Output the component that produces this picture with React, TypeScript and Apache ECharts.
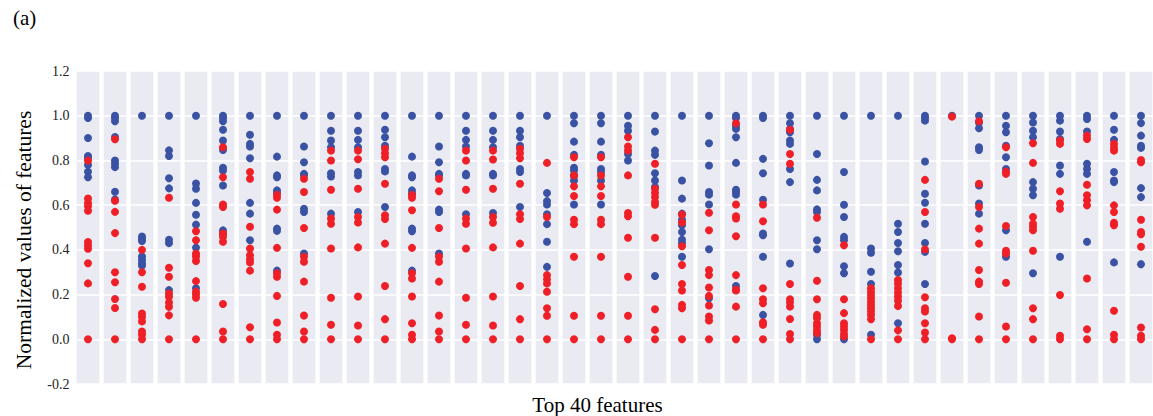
import React, { useEffect, useRef } from "react";
import * as echarts from "echarts";

const features: string[] = Array.from({ length: 40 }, (_, i) => `Feature ${i + 1}`);

const yTicks = { min: -0.2, max: 1.2, step: 0.2 };

const blueValues: number[][] = [
  [1.0, 0.99, 0.9, 0.82, 0.81, 0.78, 0.75, 0.725],
  [1.0, 0.99, 0.975, 0.905, 0.8, 0.785, 0.77, 0.66, 0.625],
  [1.0, 0.46, 0.45, 0.44, 0.37, 0.355, 0.34, 0.33],
  [1.0, 0.845, 0.82, 0.72, 0.675, 0.445, 0.43, 0.22],
  [1.0, 0.697, 0.673, 0.61, 0.557, 0.513, 0.41, 0.228],
  [1.0, 0.99, 0.975, 0.937, 0.889, 0.847, 0.767, 0.755, 0.688, 0.487, 0.473],
  [1.0, 0.915, 0.874, 0.862, 0.81, 0.61, 0.562, 0.443],
  [1.0, 0.817, 0.733, 0.725, 0.666, 0.655, 0.495, 0.485, 0.307],
  [1.0, 0.862, 0.792, 0.74, 0.733, 0.584, 0.569, 0.384],
  [1.0, 0.933, 0.889, 0.859, 0.743, 0.728, 0.562],
  [1.0, 0.933, 0.892, 0.859, 0.748, 0.733, 0.569],
  [1.0, 0.937, 0.904, 0.866, 0.762, 0.751, 0.592],
  [1.0, 0.817, 0.733, 0.725, 0.666, 0.651, 0.495, 0.483, 0.307],
  [1.0, 0.862, 0.792, 0.74, 0.733, 0.58, 0.569, 0.384],
  [1.0, 0.933, 0.892, 0.862, 0.74, 0.733, 0.559],
  [1.0, 0.933, 0.892, 0.859, 0.74, 0.733, 0.565],
  [1.0, 0.933, 0.904, 0.866, 0.762, 0.748, 0.592],
  [1.0, 0.654, 0.618, 0.603, 0.559, 0.515, 0.436, 0.324],
  [1.0, 0.966, 0.884, 0.825, 0.767, 0.755, 0.733, 0.71, 0.603],
  [1.0, 0.966, 0.884, 0.825, 0.762, 0.748, 0.71, 0.603],
  [1.0, 0.955, 0.933, 0.829, 0.8],
  [1.0, 0.929, 0.844, 0.825, 0.743, 0.71, 0.681, 0.283],
  [1.0, 0.71, 0.629, 0.562, 0.535, 0.51, 0.48, 0.445, 0.43, 0.369],
  [1.0, 0.877, 0.777, 0.659, 0.647, 0.603, 0.403, 0.183],
  [1.0, 0.99, 0.955, 0.941, 0.904, 0.789, 0.669, 0.659, 0.647, 0.238],
  [1.0, 0.99, 0.807, 0.743, 0.624, 0.473, 0.465, 0.369, 0.109],
  [1.0, 0.966, 0.941, 0.926, 0.889, 0.874, 0.762, 0.703, 0.339],
  [1.0, 0.829, 0.713, 0.666, 0.581, 0.569, 0.443, 0.403, 0.02, 0],
  [1.0, 0.748, 0.602, 0.547, 0.458, 0.443, 0.327, 0.295, 0],
  [1.0, 0.406, 0.387, 0.302, 0.247, 0.02],
  [1.0, 0.517, 0.48, 0.431, 0.394, 0.332, 0.299, 0.072],
  [1.0, 0.99, 0.978, 0.795, 0.651, 0.611, 0.517, 0.431, 0.391, 0.247],
  [1.0],
  [1.0, 0.97, 0.944, 0.859, 0.847, 0.688, 0.607, 0.562],
  [1.0, 0.955, 0.926, 0.866, 0.814, 0.762, 0.488, 0.369],
  [1.0, 0.97, 0.933, 0.904, 0.703, 0.673, 0.644, 0.295],
  [1.0, 0.978, 0.929, 0.896, 0.777, 0.74, 0.369],
  [1.0, 0.985, 0.929, 0.785, 0.762, 0.74, 0.436],
  [1.0, 0.937, 0.892, 0.748, 0.71, 0.703, 0.344],
  [1.0, 0.967, 0.911, 0.866, 0.856, 0.676, 0.636, 0.336],
];

const redValues: number[][] = [
  [0.8, 0.63, 0.61, 0.595, 0.575, 0.435, 0.42, 0.405, 0.34, 0.25, 0],
  [0.895, 0.62, 0.57, 0.475, 0.3, 0.255, 0.18, 0.14, 0],
  [0.4, 0.3, 0.235, 0.115, 0.1, 0.08, 0.035, 0.02, 0],
  [0.633, 0.32, 0.28, 0.205, 0.19, 0.165, 0.145, 0.107, 0],
  [0.483, 0.443, 0.384, 0.37, 0.35, 0.26, 0.213, 0.2, 0.186, 0],
  [0.859, 0.725, 0.603, 0.592, 0.473, 0.458, 0.436, 0.158, 0.035, 0],
  [0.748, 0.718, 0.503, 0.406, 0.376, 0.358, 0.344, 0.307, 0.054, 0],
  [0.646, 0.633, 0.58, 0.409, 0.295, 0.28, 0.194, 0.075, 0.02, 0],
  [0.718, 0.659, 0.498, 0.369, 0.347, 0.258, 0.106, 0.035, 0],
  [0.844, 0.8, 0.669, 0.54, 0.517, 0.406, 0.186, 0.065, 0],
  [0.844, 0.805, 0.673, 0.547, 0.522, 0.411, 0.191, 0.062, 0],
  [0.852, 0.832, 0.814, 0.696, 0.555, 0.538, 0.428, 0.238, 0.09, 0],
  [0.645, 0.633, 0.577, 0.409, 0.295, 0.272, 0.191, 0.072, 0.02, 0],
  [0.718, 0.662, 0.498, 0.369, 0.347, 0.258, 0.106, 0.035, 0],
  [0.844, 0.8, 0.669, 0.54, 0.517, 0.406, 0.186, 0.065, 0],
  [0.844, 0.804, 0.673, 0.547, 0.521, 0.411, 0.191, 0.062, 0],
  [0.852, 0.832, 0.81, 0.696, 0.559, 0.538, 0.428, 0.238, 0.09, 0],
  [0.789, 0.547, 0.287, 0.268, 0.25, 0.213, 0.139, 0.105, 0],
  [0.814, 0.733, 0.684, 0.641, 0.535, 0.515, 0.369, 0.105, 0],
  [0.814, 0.733, 0.684, 0.641, 0.535, 0.515, 0.369, 0.105, 0],
  [0.904, 0.862, 0.844, 0.733, 0.565, 0.55, 0.454, 0.28, 0.105, 0],
  [0.785, 0.673, 0.654, 0.636, 0.614, 0.602, 0.454, 0.134, 0.042, 0],
  [0.558, 0.522, 0.416, 0.332, 0.247, 0.218, 0.154, 0.139, 0],
  [0.566, 0.488, 0.31, 0.287, 0.232, 0.194, 0.151, 0.102, 0.084, 0],
  [0.966, 0.603, 0.55, 0.54, 0.461, 0.287, 0.223, 0.218, 0.146, 0],
  [0.603, 0.528, 0.228, 0.179, 0.161, 0.076, 0.065, 0],
  [0.937, 0.829, 0.785, 0.247, 0.179, 0.164, 0.146, 0.091, 0.024, 0],
  [0.544, 0.262, 0.179, 0.109, 0.094, 0.072, 0.057, 0.04, 0.027],
  [0.421, 0.179, 0.117, 0.072, 0.057, 0.042, 0.024, 0.013],
  [0.228, 0.213, 0.198, 0.183, 0.168, 0.153, 0.139, 0.124, 0.109, 0.09, 0],
  [0.265, 0.25, 0.228, 0.209, 0.191, 0.173, 0.149, 0.04, 0],
  [0.713, 0.569, 0.402, 0.188, 0.139, 0.124, 0.072, 0.03, 0],
  [0.996, 0.005, 0],
  [0.975, 0.696, 0.592, 0.495, 0.428, 0.31, 0.258, 0.247, 0.102, 0],
  [0.859, 0.75, 0.74, 0.507, 0.396, 0.384, 0.253, 0.057, 0],
  [0.877, 0.789, 0.547, 0.517, 0.503, 0.488, 0.396, 0.139, 0.09, 0],
  [0.889, 0.874, 0.662, 0.607, 0.584, 0.198, 0.016, 0],
  [0.911, 0.896, 0.691, 0.644, 0.622, 0.599, 0.272, 0.045, 0],
  [0.874, 0.856, 0.844, 0.599, 0.569, 0.521, 0.51, 0.128, 0.02, 0],
  [0.802, 0.792, 0.535, 0.48, 0.47, 0.414, 0.053, 0.016, 0],
];

const SERIF = "'Liberation Serif', 'DejaVu Serif', serif";

export default function App() {
  const ref = useRef<HTMLDivElement>(null);

  useEffect(() => {
    if (!ref.current) return;
    const chart = echarts.init(ref.current, undefined, { renderer: "svg" });

    const toPoints = (vals: number[][]) =>
      vals.flatMap((col, i) => col.map((v) => [i, v]));

    const option: any = {
      animation: false,
      backgroundColor: "#ffffff",
      textStyle: { fontFamily: SERIF },
      graphic: [
        {
          type: "text",
          left: 13,
          top: 7,
          style: { text: "(a)", fontSize: 21, fontFamily: SERIF, fill: "#000" },
        },
      ],
      grid: {
        left: 74.5,
        top: 71,
        width: 1080,
        height: 313,
        containLabel: false,
        outerBoundsMode: "none",
      },
      xAxis: {
        type: "category",
        data: features,
        axisLine: { show: false },
        axisTick: { show: false },
        axisLabel: { show: false },
        splitLine: { show: false },
        name: "Top 40 features",
        nameLocation: "middle",
        nameGap: 10,
        nameTextStyle: {
          fontSize: 21,
          color: "#000",
          fontFamily: SERIF,
          padding: [0, 34, 0, 0],
        },
      },
      yAxis: {
        type: "value",
        min: yTicks.min,
        max: yTicks.max,
        interval: yTicks.step,
        z: 3,
        axisLine: { show: false },
        axisTick: { show: false },
        axisLabel: {
          formatter: (v: number) => (Math.abs(v) < 1e-9 ? "0.0" : v.toFixed(1)),
          fontSize: 14,
          color: "#222",
          margin: 5,
          fontFamily: SERIF,
        },
        splitLine: { show: true, lineStyle: { color: "#ffffff", width: 1.5 } },
        name: "Normalized values of features",
        nameLocation: "middle",
        nameGap: 40,
        nameTextStyle: {
          fontSize: 21.5,
          color: "#000",
          fontFamily: SERIF,
          padding: [0, 25, 0, 0],
        },
      },
      series: [
        {
          type: "custom",
          z: 1,
          silent: true,
          data: features.map((_, i) => [i, yTicks.max]),
          encode: { x: 0, y: 1 },
          renderItem: (params: any, api: any) => {
            const top = api.coord([api.value(0), yTicks.max]);
            const bottom = api.coord([api.value(0), yTicks.min]);
            const bw = api.size([1, 0])[0] * 0.84;
            return {
              type: "rect",
              shape: { x: top[0] - bw / 2, y: top[1], width: bw, height: bottom[1] - top[1] },
              style: { fill: "#EAEAF2" },
            };
          },
        },
        {
          type: "scatter",
          name: "blue",
          z: 5,
          symbolSize: 8,
          itemStyle: { color: "#3A52A4", opacity: 1 },
          data: toPoints(blueValues),
        },
        {
          type: "scatter",
          name: "red",
          z: 6,
          symbolSize: 8,
          itemStyle: { color: "#EE1F26", opacity: 1 },
          data: toPoints(redValues),
        },
      ],
    };
    chart.setOption(option);
    return () => chart.dispose();
  }, []);

  return (
    <div
      ref={ref}
      style={{ position: "absolute", left: 0, top: 0, width: 1153, height: 416 }}
    />
  );
}
